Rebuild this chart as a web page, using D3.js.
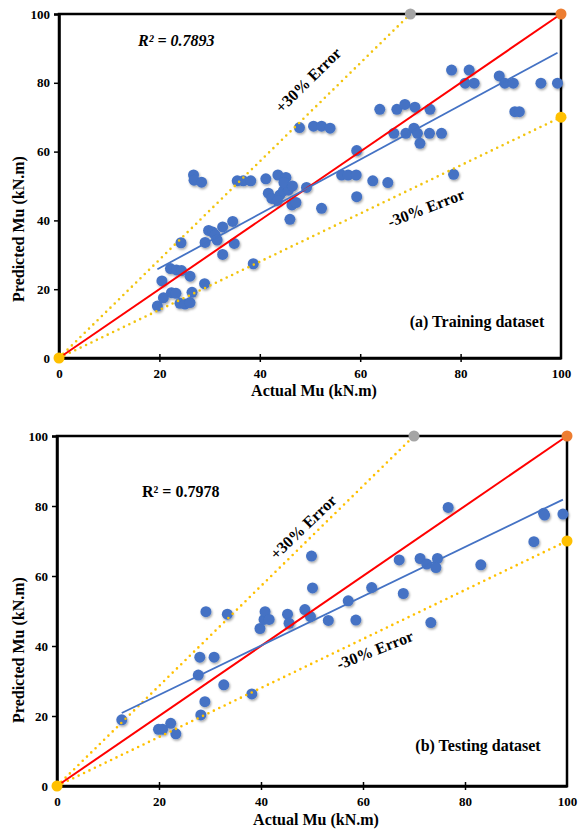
<!DOCTYPE html>
<html>
<head>
<meta charset="utf-8">
<script src="https://cdn.jsdelivr.net/npm/d3@7"></script>
<style>
  html, body { margin: 0; padding: 0; background: #fff; }
  svg { display: block; font-family: "Liberation Serif", "Times New Roman", serif; }
</style>
</head>
<body>
<svg id="fig" width="584" height="831"></svg>
<script>
// Training dataset: actual vs predicted moment capacity (kN.m)
const trainActual = [
  19.6, 20.5, 20.8, 22.4, 23.3, 22.2, 23.4, 24.4, 26.1, 24.3,
  24.1, 25.1, 26.1, 26.5, 29.0, 26.8, 26.9, 28.4, 29.1, 29.8,
  30.6, 31.1, 31.5, 32.6, 34.6, 34.9, 32.6, 38.7, 35.5, 36.7,
  38.2, 41.2, 43.6, 45.2, 41.7, 42.4, 44.0, 44.7, 45.7, 43.5,
  46.4, 47.2, 49.3, 52.3, 46.0, 47.9, 50.7, 52.3, 54.0, 59.3,
  56.3, 57.6, 59.2, 62.5, 65.5, 59.3, 78.6, 63.9, 67.3, 68.9,
  70.9, 73.9, 66.7, 69.1, 70.7, 71.4, 73.8, 76.2, 71.9, 78.2,
  81.7, 80.9, 82.7, 87.7, 88.8, 90.5, 96.0, 99.3, 90.8, 91.7,
  44.8, 46.5
];
const trainPredicted = [
  15.1, 22.4, 17.5, 19.0, 18.8, 26.0, 25.6, 25.4, 23.8, 33.5,
  15.9, 15.7, 16.1, 19.1, 21.6, 53.2, 51.7, 51.1, 33.6, 37.1,
  36.6, 35.8, 34.3, 38.1, 39.7, 33.3, 30.1, 27.4, 51.5, 51.5,
  51.5, 52.1, 53.2, 52.5, 47.9, 46.4, 47.4, 48.6, 48.8, 45.8,
  44.5, 45.2, 49.6, 43.5, 40.3, 67.0, 67.4, 67.4, 66.8, 60.3,
  53.2, 53.2, 53.2, 51.5, 51.0, 46.9, 53.4, 72.3, 72.3, 73.7,
  72.9, 72.3, 65.3, 65.3, 66.8, 65.3, 65.3, 65.3, 62.4, 83.7,
  83.7, 79.9, 79.9, 82.0, 79.9, 79.9, 79.9, 79.9, 71.6, 71.6,
  51.0, 50.0
];

// Testing dataset
const testActual = [
  12.7, 19.9, 20.7, 22.3, 23.3, 28.2, 29.0, 32.7, 38.2, 27.7,
  28.0, 30.8, 29.2, 33.4, 39.8, 40.6, 40.8, 41.6, 45.2, 45.5,
  48.6, 49.7, 50.1, 49.9, 53.2, 58.6, 57.1, 61.7, 67.9, 67.1,
  71.2, 72.5, 74.6, 74.3, 73.3, 83.1, 76.7, 93.5, 95.4, 95.6,
  99.2
];
const testPredicted = [
  18.9, 16.2, 16.2, 17.9, 14.9, 20.3, 24.1, 28.9, 26.3, 31.7,
  36.8, 36.8, 49.8, 49.1, 45.0, 47.6, 49.8, 47.6, 49.1, 46.5,
  50.4, 48.4, 56.6, 65.7, 47.3, 47.4, 52.9, 56.7, 55.0, 64.6,
  65.0, 63.4, 65.0, 62.4, 46.7, 63.2, 79.6, 69.8, 77.9, 77.4,
  77.7
];

// Linear trendlines [slope, intercept] and their R² labels
const trainTrend = [0.79, 10.3];
const testTrend = [0.705, 11.9];
const trainR2 = "0.7893";
const testR2 = "0.7978";

// Reference lines: perfect fit and ±30% error bounds
const perfectLine = [[0, 0], [100, 100]];
const plusErrorLine = [[0, 0], [70, 100]];
const minusErrorLine = [[0, 0], [100, 70]];

const axisTicks = [0, 20, 40, 60, 80, 100];

const svg = d3.select("#fig");

const defs = svg.append("defs");
defs.append("filter")
  .attr("id", "pt-shadow")
  .attr("x", "-50%").attr("y", "-50%").attr("width", "200%").attr("height", "200%")
  .append("feDropShadow")
  .attr("dx", 1).attr("dy", 1.5).attr("stdDeviation", 1)
  .attr("flood-color", "#000").attr("flood-opacity", 0.35);

function drawPanel(cfg) {
  const x = d3.scaleLinear().domain([0, 100]).range(cfg.xRange);
  const y = d3.scaleLinear().domain([0, 100]).range(cfg.yRange);
  const g = svg.append("g");
  const line = d3.line().x(d => x(d[0])).y(d => y(d[1]));

  // plot frame
  g.append("rect")
    .attr("x", x(0)).attr("y", y(100))
    .attr("width", x(100) - x(0)).attr("height", y(0) - y(100))
    .attr("fill", "none").attr("stroke", "#000").attr("stroke-width", 2.5);

  // axes
  const xAxis = d3.axisBottom(x).tickValues(axisTicks).tickSize(0).tickFormat(d3.format("d"));
  const yAxis = d3.axisLeft(y).tickValues(axisTicks).tickSize(5).tickFormat(d3.format("d"));

  const gx = g.append("g").attr("transform", `translate(0,${y(0)})`).call(xAxis);
  gx.select(".domain").attr("stroke", "#000").attr("stroke-width", 2.5);
  gx.selectAll(".tick text")
    .attr("dy", 0).attr("y", 20)
    .attr("font-family", "Liberation Serif, serif")
    .attr("font-size", 13).attr("font-weight", "bold").attr("fill", "#000");
  // crossing tick marks on the horizontal axis
  gx.selectAll(".tick").filter(d => d > 0 && d < 100).append("line")
    .attr("y1", -4).attr("y2", 4).attr("stroke", "#000").attr("stroke-width", 1.5);

  const gy = g.append("g").attr("transform", `translate(${x(0)},0)`).call(yAxis);
  gy.select(".domain").attr("stroke", "#000").attr("stroke-width", 2.5);
  gy.selectAll(".tick line").attr("stroke", "#000").attr("stroke-width", 1.5);
  gy.selectAll(".tick text")
    .attr("x", -9)
    .attr("font-family", "Liberation Serif, serif")
    .attr("font-size", 13).attr("font-weight", "bold").attr("fill", "#000");

  // data points
  const pts = d3.zip(cfg.actual, cfg.predicted);
  g.append("g").attr("filter", "url(#pt-shadow)")
    .selectAll("circle").data(pts).join("circle")
    .attr("cx", d => x(d[0])).attr("cy", d => y(d[1]))
    .attr("r", 5.5).attr("fill", "#4472C4");

  // ±30% error lines (dotted)
  [plusErrorLine, minusErrorLine].forEach(l => {
    g.append("path").attr("d", line(l))
      .attr("fill", "none").attr("stroke", cfg.dotColor)
      .attr("stroke-width", 2.6).attr("stroke-linecap", "round")
      .attr("stroke-dasharray", "0 6");
  });

  // perfect prediction line
  g.append("path").attr("d", line(perfectLine))
    .attr("fill", "none").attr("stroke", "#FF0000").attr("stroke-width", 2);

  // linear trendline across the data range
  const xmin = d3.min(cfg.actual), xmax = d3.max(cfg.actual);
  const [m, b] = cfg.trend;
  g.append("path").attr("d", line([[xmin, m * xmin + b], [xmax, m * xmax + b]]))
    .attr("fill", "none").attr("stroke", "#4472C4").attr("stroke-width", 1.8);

  // end markers of the reference lines
  const ends = [
    { p: plusErrorLine[1], c: "#A5A5A5" },
    { p: perfectLine[1], c: "#ED7D31" },
    { p: minusErrorLine[1], c: "#FFC000" },
    { p: [0, 0], c: "#FFC000" }
  ];
  g.selectAll("circle.end").data(ends).join("circle")
    .attr("class", "end")
    .attr("cx", d => x(d.p[0])).attr("cy", d => y(d.p[1]))
    .attr("r", 5.5).attr("fill", d => d.c);

  // annotations
  g.append("text")
    .attr("x", cfg.r2Pos[0]).attr("y", cfg.r2Pos[1])
    .attr("font-size", 16).attr("font-weight", "bold")
    .attr("font-style", cfg.r2Italic ? "italic" : "normal")
    .text("R² = " + cfg.r2);

  g.append("text")
    .attr("transform", `translate(${cfg.plusPos[0]},${cfg.plusPos[1]}) rotate(${cfg.plusAngle})`)
    .attr("text-anchor", "middle").attr("font-size", 16).attr("font-weight", "bold")
    .text("+30% Error");

  g.append("text")
    .attr("transform", `translate(${cfg.minusPos[0]},${cfg.minusPos[1]}) rotate(${cfg.minusAngle})`)
    .attr("text-anchor", "middle").attr("font-size", 16).attr("font-weight", "bold")
    .text("-30% Error");

  g.append("text")
    .attr("x", cfg.titlePos[0]).attr("y", cfg.titlePos[1])
    .attr("text-anchor", "middle").attr("font-size", 16).attr("font-weight", "bold")
    .text(cfg.title);

  g.append("text")
    .attr("x", cfg.xLabelPos[0]).attr("y", cfg.xLabelPos[1])
    .attr("text-anchor", "middle").attr("font-size", 16).attr("font-weight", "bold")
    .text("Actual Mu (kN.m)");

  g.append("text")
    .attr("transform", `translate(${cfg.yLabelPos[0]},${cfg.yLabelPos[1]}) rotate(-90)`)
    .attr("text-anchor", "middle").attr("font-size", 16).attr("font-weight", "bold")
    .text("Predicted Mu (kN.m)");
}

drawPanel({
  actual: trainActual, predicted: trainPredicted, trend: trainTrend,
  xRange: [59, 561], yRange: [358, 14],
  dotColor: "#F2C40F",
  r2: trainR2, r2Italic: true, r2Pos: [138, 46],
  plusPos: [312, 84], plusAngle: -44.5,
  minusPos: [428, 213], minusAngle: -21,
  title: "(a) Training dataset", titlePos: [477, 327],
  xLabelPos: [314, 396], yLabelPos: [24, 229]
});

drawPanel({
  actual: testActual, predicted: testPredicted, trend: testTrend,
  xRange: [57, 567], yRange: [786, 436],
  dotColor: "#FFC000",
  r2: testR2, r2Italic: false, r2Pos: [142, 497],
  plusPos: [307, 531], plusAngle: -44,
  minusPos: [377, 655], minusAngle: -21.5,
  title: "(b) Testing dataset", titlePos: [478, 751],
  xLabelPos: [316, 825], yLabelPos: [24, 650]
});
</script>
</body>
</html>
